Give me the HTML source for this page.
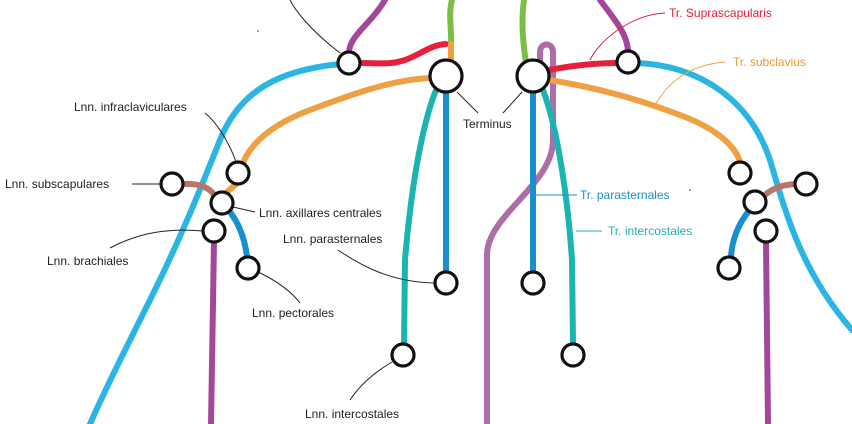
<!DOCTYPE html>
<html><head><meta charset="utf-8"><style>
html,body{margin:0;padding:0;background:#fff;}
svg{display:block;}
text{font-family:"Liberation Sans",sans-serif;font-size:12px;}
</style></head><body>
<svg width="852" height="424" viewBox="0 0 852 424" xmlns="http://www.w3.org/2000/svg">
<g fill="none" stroke-linecap="round" stroke-width="6">
<!-- mauve loop -->
<path d="M487 424 L487 255 C487 215 553 185 553 140 L553 52 C553 42 540 42 540 52 L540 70" stroke="#ad6ea8"/>
<!-- cyan left -->
<path d="M340 64 C280 70 240 90 220 140 C200 190 180 240 150 300 C125 350 105 390 90 424" stroke="#2bb5e3"/>
<!-- cyan right -->
<path d="M638 63 C700 66 750 100 770 160 C785 210 800 270 852 330" stroke="#2bb5e3"/>
<!-- purple -->
<path d="M385 0 C370 25 350 35 349 52" stroke="#a2479a"/>
<path d="M600 0 C615 20 628 35 628 52" stroke="#a2479a"/>
<path d="M214 242 L211 424" stroke="#a2479a"/>
<path d="M766 242 L768 424" stroke="#a2479a"/>
<!-- green -->
<path d="M452 0 C448 15 452 30 451 48" stroke="#79bf45"/>
<path d="M524 0 C521 20 523 45 526 62" stroke="#79bf45"/>
<!-- red -->
<path d="M360 63 C380 63 390 65 405 60 C420 55 430 45 446 44" stroke="#e5203a"/>
<path d="M549 70 C575 65 600 63 618 63" stroke="#e5203a"/>
<!-- orange -->
<path d="M451 44 L451 62" stroke="#eea142"/>
<path d="M430 78 C390 80 350 95 310 110 C270 125 250 145 243 163" stroke="#eea142"/>
<path d="M549 80 C600 88 640 100 680 115 C715 128 735 145 740 162" stroke="#eea142"/>
<path d="M236 184 L226 193" stroke="#eea142"/>
<!-- brown -->
<path d="M183 184 C200 183 210 188 215 196" stroke="#b8756a"/>
<path d="M795 184 C780 185 770 190 764 196" stroke="#b8756a"/>
<!-- blue -->
<path d="M446 92 L446 272" stroke="#1a8fcf"/>
<path d="M533 92 L533 272" stroke="#1a8fcf"/>
<path d="M230 212 C240 225 245 240 247 257" stroke="#1a8fcf"/>
<path d="M748 212 C738 225 732 240 731 257" stroke="#1a8fcf"/>
<!-- teal -->
<path d="M436 90 C420 130 410 200 405 260 L404 344" stroke="#1db3b0"/>
<path d="M543 90 C558 130 568 200 572 260 L573 344" stroke="#1db3b0"/>
</g>
<!-- leader lines -->
<g fill="none" stroke="#222" stroke-width="1">
<path d="M340 53 C310 30 295 10 290 0"/>
<path d="M457 92 L478 113"/>
<path d="M522 92 L503 113"/>
<path d="M205 113 C220 125 232 150 236 162"/>
<path d="M132 184 L161 184"/>
<path d="M233 207 L255 212"/>
<path d="M110 248 C140 232 170 228 203 231"/>
<path d="M258 272 C275 280 290 290 300 303"/>
<path d="M338 250 C360 265 390 282 434 283"/>
<path d="M350 400 C360 385 375 372 392 362"/>
</g>
<path d="M590 60 C600 40 630 15 665 13" fill="none" stroke="#e5203a" stroke-width="1"/>
<path d="M655 105 C670 80 690 65 725 62" fill="none" stroke="#eea142" stroke-width="1"/>
<path d="M536 195 L577 195" fill="none" stroke="#1a8fcf" stroke-width="1"/>
<path d="M576 231 L602 231" fill="none" stroke="#1db3b0" stroke-width="1"/>
<!-- nodes -->
<g fill="#fff" stroke="#111" stroke-width="3.2">
<circle cx="349" cy="63" r="11"/>
<circle cx="628" cy="62" r="11"/>
<circle cx="446" cy="76" r="16"/>
<circle cx="533" cy="76" r="16"/>
<circle cx="238" cy="173" r="11"/>
<circle cx="222" cy="203" r="11"/>
<circle cx="172" cy="184" r="11"/>
<circle cx="214" cy="231" r="11"/>
<circle cx="248" cy="268" r="11"/>
<circle cx="446" cy="283" r="11"/>
<circle cx="403" cy="355" r="11"/>
<circle cx="533" cy="283" r="11"/>
<circle cx="573" cy="355" r="11"/>
<circle cx="740" cy="173" r="11"/>
<circle cx="755" cy="202" r="11"/>
<circle cx="806" cy="184" r="11"/>
<circle cx="766" cy="231" r="11"/>
<circle cx="729" cy="268" r="11"/>
</g>
<circle cx="258" cy="31" r="0.8" fill="#333"/>
<circle cx="690" cy="190" r="0.8" fill="#333"/>
<g fill="#222">
<text x="463" y="128">Terminus</text>
<text x="74" y="111">Lnn. infraclaviculares</text>
<text x="5" y="188">Lnn. subscapulares</text>
<text x="259" y="217">Lnn. axillares centrales</text>
<text x="47" y="265">Lnn. brachiales</text>
<text x="283" y="243">Lnn. parasternales</text>
<text x="252" y="317">Lnn. pectorales</text>
<text x="305" y="418">Lnn. intercostales</text>
</g>
<text x="669" y="17" fill="#e5203a">Tr. Suprascapularis</text>
<text x="733" y="66" fill="#e49a3a">Tr. subclavius</text>
<text x="580" y="199" fill="#1a8fcf">Tr. parasternales</text>
<text x="608" y="235" fill="#1db3b0">Tr. intercostales</text>
</svg>
</body></html>
